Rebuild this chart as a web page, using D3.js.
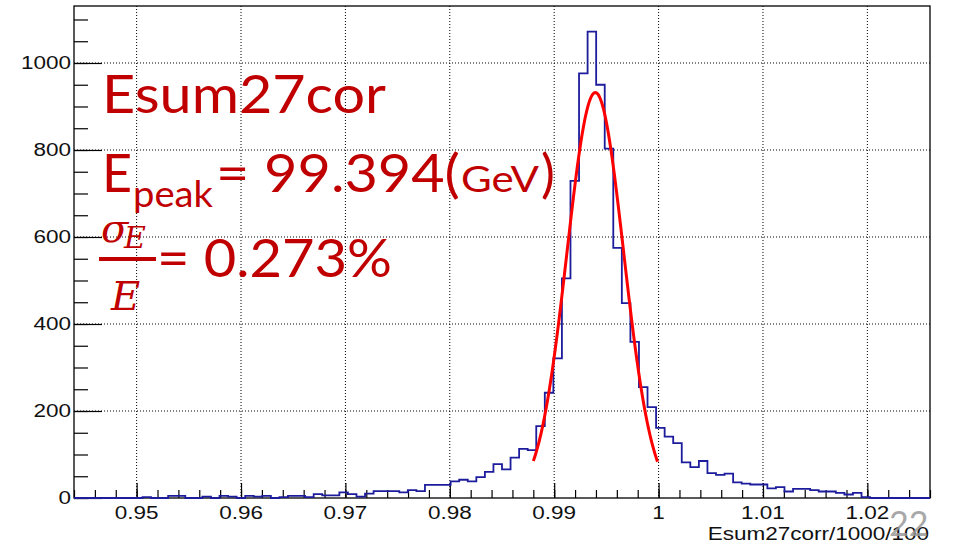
<!DOCTYPE html>
<html>
<head>
<meta charset="utf-8">
<script src="https://cdn.jsdelivr.net/npm/d3@7"></script>
<style>
body { margin: 0; background: #fff; }
svg { display: block; }
</style>
</head>
<body>
<svg id="chart" width="956" height="543"></svg>
<script>
// Esum27corr/1000/100, 100 bins over binRange
var binRange = [0.944, 1.026];
var counts = [
    0, 0, 0, 0, 0, 0, 0, 0, 2, 0,
    0, 5, 5, 0, 0, 3, 0, 5, 3, 0,
    5, 3, 5, 0, 2, 5, 5, 2, 9, 6,
    6, 13, 9, 3, 10, 16, 16, 16, 13, 18,
    16, 30, 30, 30, 38, 42, 38, 48, 60, 78,
    66, 93, 113, 110, 165, 242, 321, 505, 729, 976,
    1072, 950, 803, 575, 448, 359, 255, 209, 161, 141,
    126, 82, 71, 85, 57, 53, 56, 36, 33, 31,
    31, 22, 25, 15, 21, 21, 18, 15, 15, 12,
    8, 12, 2, 0, 0, 0, 0, 0, 0, 0
];
var yMax = 1131;
var xMajor = [0.95, 0.96, 0.97, 0.98, 0.99, 1.0, 1.01, 1.02];
var xLabels = ["0.95", "0.96", "0.97", "0.98", "0.99", "1", "1.01", "1.02"];
var yMajor = [0, 200, 400, 600, 800, 1000];
var yLabels = ["0", "200", "400", "600", "800", "1000"];
// gaussian fit: constant, mean, sigma
var fitParams = [932, 0.99394, 0.002713];
var fitRange = [0.9880, 0.9999];
var axisTitle = "Esum27corr/1000/100";
var slideNumber = "22";

var svg = d3.select('#chart');
var margin = {left: 74, top: 6, right: 26, bottom: 45};
var width = 956 - margin.left - margin.right,
    height = 543 - margin.top - margin.bottom;
var x = d3.scaleLinear().domain(binRange).range([0, width]);
var y = d3.scaleLinear().domain([0, yMax]).range([height, 0]);
var binWidth = (binRange[1] - binRange[0]) / counts.length;
var red = '#c00000';

svg.append('rect').attr('width', 956).attr('height', 543).attr('fill', '#fff');
var g = svg.append('g').attr('transform', 'translate(' + margin.left + ',' + margin.top + ')');

// grid
g.append('g').selectAll('line').data(xMajor).enter().append('line')
    .attr('x1', x).attr('x2', x).attr('y1', 0).attr('y2', height)
    .attr('stroke', '#000').attr('stroke-width', 1).attr('stroke-dasharray', '1,2');
g.append('g').selectAll('line').data(yMajor.slice(1)).enter().append('line')
    .attr('x1', 0).attr('x2', width).attr('y1', y).attr('y2', y)
    .attr('stroke', '#000').attr('stroke-width', 1).attr('stroke-dasharray', '1,2');

// ticks (ROOT style: inside the frame)
function tickAxis(axis, cls) {
    var a = g.append('g').attr('class', cls).call(axis);
    a.select('.domain').remove();
    a.selectAll('.tick line').attr('stroke', '#000').attr('stroke-width', 1.2);
    return a;
}
tickAxis(d3.axisLeft(y).tickValues(d3.range(0, 1101, 50)).tickSize(-14).tickFormat(''), 'ymin');
tickAxis(d3.axisLeft(y).tickValues(yMajor).tickSize(-28).tickFormat(''), 'ymaj');
var xMinor = d3.range(0, 42).map(function (i) { return 0.944 + i * 0.002; });
tickAxis(d3.axisBottom(x).tickValues(xMinor).tickSize(-8).tickFormat(''), 'xmin')
    .attr('transform', 'translate(0,' + height + ')');
tickAxis(d3.axisBottom(x).tickValues(xMajor).tickSize(-15).tickFormat(''), 'xmaj')
    .attr('transform', 'translate(0,' + height + ')');

// frame
g.append('rect').attr('width', width).attr('height', height)
    .attr('fill', 'none').attr('stroke', '#000').attr('stroke-width', 1.3);

// tick labels, stretched like the pasted canvas
g.append('g').selectAll('text').data(xMajor).enter().append('text')
    .attr('transform', function (d) { return 'translate(' + x(d) + ',' + (height + 21) + ') scale(1.25,1)'; })
    .attr('text-anchor', 'middle')
    .style('font', '18px "Liberation Sans", Arial, sans-serif')
    .attr('fill', '#111')
    .text(function (d, i) { return xLabels[i]; });
g.append('g').selectAll('text').data(yMajor).enter().append('text')
    .attr('transform', function (d) { return 'translate(-3,' + (y(d) + 6) + ') scale(1.25,1)'; })
    .attr('text-anchor', 'end')
    .style('font', '18px "Liberation Sans", Arial, sans-serif')
    .attr('fill', '#111')
    .text(function (d, i) { return yLabels[i]; });
g.append('text')
    .attr('transform', 'translate(' + (width - 1) + ',' + (height + 42) + ') scale(1.25,1)')
    .attr('text-anchor', 'end')
    .style('font', '18px "Liberation Sans", Arial, sans-serif')
    .attr('fill', '#111')
    .text(axisTitle);

// histogram outline
var pts = [];
counts.forEach(function (c, i) {
    var x0 = binRange[0] + i * binWidth;
    pts.push([x0, c]);
    pts.push([x0 + binWidth, c]);
});
var histLine = d3.line()
    .x(function (d) { return x(d[0]); })
    .y(function (d) { return y(d[1]); });
g.append('path').datum(pts)
    .attr('d', histLine)
    .attr('fill', 'none').attr('stroke', '#1c1c9c').attr('stroke-width', 1.8);

// gaussian fit
var gaus = function (v) {
    var t = (v - fitParams[1]) / fitParams[2];
    return fitParams[0] * Math.exp(-0.5 * t * t);
};
var fitPts = d3.range(0, 201).map(function (i) {
    var v = fitRange[0] + (fitRange[1] - fitRange[0]) * i / 200;
    return [v, gaus(v)];
});
g.append('path').datum(fitPts)
    .attr('d', histLine)
    .attr('fill', 'none').attr('stroke', '#ff0000').attr('stroke-width', 3);

// annotation overlaid on the slide
var ann = svg.append('g').attr('fill', red).style('font-family', 'Lato, "Open Sans", sans-serif');
function annText(str, px, py, size, len) {
    var t = ann.append('text').attr('x', px).attr('y', py).style('font-size', size + 'px').text(str);
    if (len) { t.attr('textLength', len).attr('lengthAdjust', 'spacingAndGlyphs'); }
    return t;
}
annText('Esum27cor', 102, 113, 52, 284);
annText('E', 102, 192, 52);
annText('peak', 133, 207, 36, 80);
annText('= 99.394(', 216, 192, 52, 244);
annText('GeV', 461, 192, 36, 78);
annText(')', 541, 192, 52);
annText('= 0.273%', 157, 277, 52, 235);
var serif = '"DejaVu Serif", "Liberation Serif", serif';
ann.append('text').attr('x', 101).attr('y', 242).style('font', 'italic 40px ' + serif).text('σ');
ann.append('text').attr('x', 124).attr('y', 248).style('font', 'italic 30px ' + serif).text('E');
ann.append('rect').attr('x', 99).attr('y', 257).attr('width', 57).attr('height', 4);
ann.append('text').attr('x', 111).attr('y', 310).style('font', 'italic 40px ' + serif).text('E');

// slide number
svg.append('text').attr('x', 889).attr('y', 536)
    .style('font', '34px Lato, "Open Sans", sans-serif')
    .attr('fill', '#9a9a9a').attr('opacity', 0.85)
    .text(slideNumber);
</script>
</body>
</html>
